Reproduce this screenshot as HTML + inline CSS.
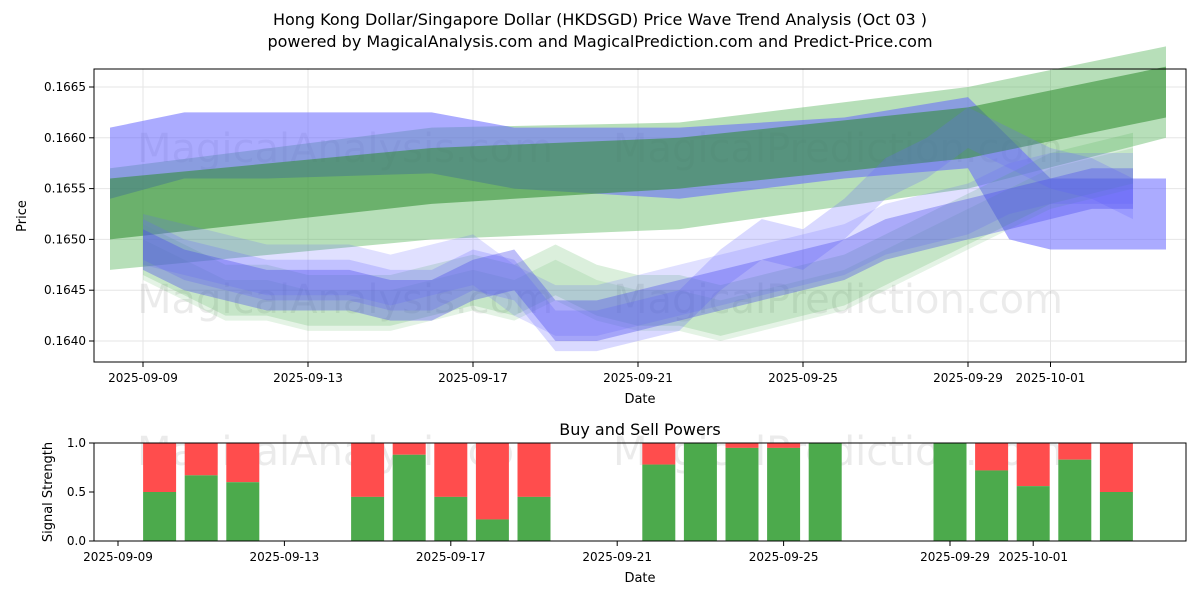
<!DOCTYPE html>
<html><head><meta charset="utf-8"><style>
body{margin:0;background:#fff;font-family:"Liberation Sans","DejaVu Sans",sans-serif}
svg text{font-family:"DejaVu Sans","Liberation Sans",sans-serif}
</style></head><body>
<svg id="c" width="1200" height="600" xmlns="http://www.w3.org/2000/svg">
<rect width="1200" height="600" fill="#fff"/>
<text x="600" y="25" font-size="16" text-anchor="middle">Hong Kong Dollar/Singapore Dollar (HKDSGD) Price Wave Trend Analysis (Oct 03 )</text>
<text x="600" y="47" font-size="16" text-anchor="middle">powered by MagicalAnalysis.com and MagicalPrediction.com and Predict-Price.com</text>
<g id="topg"></g><g id="botg"></g>
</svg>
<script>
const tickDays=[0,4,8,12,16,20,22];
const tickLabels=["2025-09-09","2025-09-13","2025-09-17","2025-09-21","2025-09-25","2025-09-29","2025-10-01"];
const yTicks=[0.1640,0.1645,0.1650,0.1655,0.1660,0.1665];
const bandDays=[-0.8,1,3,7,9,13,17,20,21,22,24.8];
const blueHi=[0.1661,0.16625,0.16625,0.16625,0.1661,0.1661,0.1662,0.1664,0.1660,0.1656,0.1656];
const blueLo=[0.1654,0.1656,0.1656,0.16565,0.1655,0.1654,0.1656,0.1657,0.1650,0.1649,0.1649];
const gDays=[-0.8,7,13,20,24.8];
const gDarkHi=[0.1656,0.1659,0.1660,0.1663,0.1667];
const gDarkLo=[0.1650,0.16535,0.1655,0.1658,0.1662];
const gLightHi=[0.1657,0.1661,0.16615,0.1665,0.1669];
const gLightLo=[0.1647,0.1650,0.1651,0.1655,0.1660];
const lowDays=[0,1,2,3,4,5,6,7,8,9,10,11,12,13,14,15,16,17,18,19,20,21,22,23,24];
const lowBlue1=[0.1649,0.1647,0.1646,0.1645,0.1645,0.1645,0.1644,0.1644,0.1646,0.1647,0.1642,0.1642,0.1643,0.1644,0.1645,0.1646,0.1647,0.1648,0.1650,0.1651,0.1652,0.1653,0.1654,0.1655,0.1655];
const lowBlue2=[0.1650,0.1648,0.1647,0.1646,0.1646,0.1646,0.1645,0.1645,0.1647,0.1646,0.1641,0.1641,0.1642,0.1643,0.1647,0.1650,0.1649,0.1652,0.1656,0.1658,0.1661,0.1659,0.1657,0.1656,0.1654];
const lowBlue3=[0.1650,0.1649,0.1648,0.1647,0.1647,0.1647,0.1646,0.1647,0.1648,0.1645,0.1643,0.1643,0.1644,0.1645,0.1646,0.1647,0.1648,0.1649,0.1651,0.1652,0.1653,0.1655,0.1656,0.1656,0.1656];
const lowGreen=[0.1649,0.1647,0.1645,0.1645,0.1644,0.1644,0.1644,0.1645,0.1646,0.1645,0.1647,0.1645,0.1644,0.1644,0.1643,0.1644,0.1645,0.1646,0.1648,0.1650,0.1652,0.1654,0.1656,0.1657,0.1658];
const barDays=[1,2,3,6,7,8,9,10,13,14,15,16,17,20,21,22,23,24];
const buyVals=[0.5,0.67,0.6,0.45,0.88,0.45,0.22,0.45,0.78,1.0,0.95,0.95,1.0,1.0,0.72,0.56,0.83,0.5];
const bTickLabels=tickLabels;

const NS="http://www.w3.org/2000/svg";
function mk(p,t,a){const e=document.createElementNS(NS,t);for(const k in a)e.setAttribute(k,a[k]);p.appendChild(e);return e;}
const X=d=>143+d*41.25, Y=v=>87+(0.1665-v)/0.0005*50.8;
const XB=d=>118+d*41.6, YB=v=>541-v*98;
const tg=document.getElementById('topg'), bg=document.getElementById('botg');
yTicks.forEach((v,i)=>{let l=mk(tg,'line',{x1:94,x2:1186,y1:Y(v),y2:Y(v),stroke:'#e6e6e6'});

mk(tg,'line',{x1:89,x2:94,y1:Y(v),y2:Y(v),stroke:'#000'});
let t=mk(tg,'text',{x:86,y:Y(v)+4,'font-size':12,'text-anchor':'end'});t.textContent=v.toFixed(4);
});
tickDays.forEach((d,i)=>{let l=mk(tg,'line',{x1:X(d),x2:X(d),y1:69,y2:362,stroke:'#e6e6e6'});

mk(tg,'line',{x1:X(d),x2:X(d),y1:362,y2:367,stroke:'#000'});
let t=mk(tg,'text',{x:X(d),y:382,'font-size':12,'text-anchor':'middle'});t.textContent=tickLabels[i];
});
function wm(p,y,size){[['MagicalAnalysis.com',345],['MagicalPrediction.com',838]].forEach(([s,x])=>{let t=mk(p,'text',{x:x,y:y,'font-size':size,'text-anchor':'middle',fill:'#000','fill-opacity':0.08});t.textContent=s;
});}
wm(tg,162,40);wm(tg,313,40);
function band(days,lo,hi,fill,op,name){let pts=days.map((d,i)=>X(d)+','+Y(hi[i]));for(let i=days.length-1;i>=0;i--)pts.push(X(days[i])+','+Y(lo[i]));
let p=mk(tg,'polygon',{points:pts.join(' '),fill:fill,'fill-opacity':op});
}
function cband(vals,hw,fill,op,name){band(lowDays,vals.map(v=>v-hw),vals.map(v=>v+hw),fill,op,name);}
band(gDays,gLightLo,gLightHi,'#4caf50',0.4,'green-wide-band');
band(bandDays,blueLo,blueHi,'#6666ff',0.55,'blue-upper-band');
band(gDays,gDarkLo,gDarkHi,'#2e8b2e',0.55,'green-core-band');
cband(lowGreen,0.00025,'#4caf50',0.2,'green-lower-band');
cband(lowGreen.map(v=>v-0.0001),0.0002,'#4caf50',0.15,'green-lower-band-2');
cband(lowBlue3,0.00025,'#6666ff',0.2,'blue-lower-band-3');
cband(lowBlue2,0.0002,'#6666ff',0.25,'blue-lower-band-2');
cband(lowBlue1,0.0002,'#4444ee',0.35,'blue-lower-band-1');
let fr=mk(tg,'rect',{x:94,y:69,width:1092,height:293,fill:'none',stroke:'#000'});

let a=mk(tg,'text',{x:640,y:403,'font-size':13,'text-anchor':'middle'});a.textContent='Date';

a=mk(tg,'text',{x:26,y:216,'font-size':13,'text-anchor':'middle',transform:'rotate(-90 26 216)'});a.textContent='Price';

a=mk(bg,'text',{x:640,y:435,'font-size':16,'text-anchor':'middle'});a.textContent='Buy and Sell Powers';

wm(bg,465,40);
[0,0.5,1].forEach(v=>{mk(bg,'line',{x1:89,x2:94,y1:YB(v),y2:YB(v),stroke:'#000'});
let t=mk(bg,'text',{x:86,y:YB(v)+4,'font-size':12,'text-anchor':'end'});t.textContent=v.toFixed(1);
});
barDays.forEach((d,i)=>{let x=XB(d)-16.5,b=buyVals[i];
let s=mk(bg,'rect',{x:x,y:YB(1),width:33,height:YB(b)-YB(1),fill:'#ff4d4d'});

let g=mk(bg,'rect',{x:x,y:YB(b),width:33,height:YB(0)-YB(b),fill:'#4caa4c'});
});
tickDays.forEach((d,i)=>{mk(bg,'line',{x1:XB(d),x2:XB(d),y1:541,y2:546,stroke:'#000'});
let t=mk(bg,'text',{x:XB(d)+(i==5?5:0),y:561,'font-size':12,'text-anchor':'middle'});t.textContent=bTickLabels[i];
});
fr=mk(bg,'rect',{x:94,y:443,width:1092,height:98,fill:'none',stroke:'#000'});

a=mk(bg,'text',{x:640,y:582,'font-size':13,'text-anchor':'middle'});a.textContent='Date';

a=mk(bg,'text',{x:52,y:492,'font-size':13,'text-anchor':'middle',transform:'rotate(-90 52 492)'});a.textContent='Signal Strength';

</script>
</body></html>
